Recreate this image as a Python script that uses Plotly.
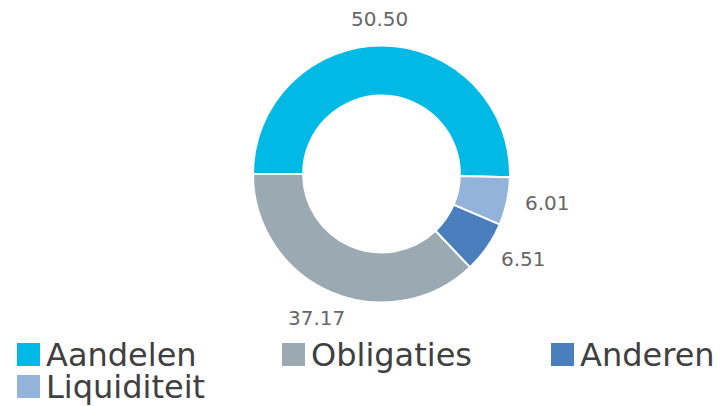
import math
import plotly.graph_objects as go

labels = ["Aandelen", "Obligaties", "Anderen", "Liquiditeit"]
values = [50.50, 37.17, 6.51, 6.01]
colors = ["#00b9e4", "#9aa9b2", "#4a7ebd", "#93b3da"]

W, H = 723, 406
CX, CY, R = 381.5, 174.0, 128.5   # donut centre / outer radius in pixels
LABEL_GAP, LABEL_SIZE = 19, 20

fig = go.Figure()

fig.add_trace(go.Pie(
    labels=labels, values=values, sort=False, direction="counterclockwise", rotation=270,
    hole=0.61,
    domain=dict(x=[(CX - R) / W, (CX + R) / W], y=[1 - (CY + R) / H, 1 - (CY - R) / H]),
    marker=dict(colors=colors, line=dict(color="white", width=2)),
    textinfo="none", showlegend=False,
))

# value labels outside the ring, placed at each slice's mid angle
total = sum(values)
start = 0.0  # first slice starts at 3 o'clock and runs counterclockwise over the top
for v in values:
    span = v / total * 360.0
    mid = math.radians(start + span / 2)
    start += span
    ux, uy = math.cos(mid), -math.sin(mid)
    txt = f"{v:.2f}"
    hw = 0.5 * len(txt) * 0.55 * LABEL_SIZE
    hh = 0.4 * LABEL_SIZE
    px = CX + (R + LABEL_GAP) * ux + hw * ux
    py = CY + (R + LABEL_GAP) * uy + hh * uy
    fig.add_annotation(text=txt, xref="paper", yref="paper", x=px / W, y=1 - py / H,
                       xanchor="center", yanchor="middle", showarrow=False,
                       font=dict(family="DejaVu Sans", size=LABEL_SIZE, color="#666666"))

# custom legend
leg_x = [17, 282, 551, 17]
leg_y = [354.5, 354.5, 354.5, 386.5]
for lab, col, lx, ly in zip(labels, colors, leg_x, leg_y):
    fig.add_shape(type="rect", xref="paper", yref="paper",
                  x0=lx / W, x1=(lx + 23) / W, y0=1 - (ly + 11.5) / H, y1=1 - (ly - 11.5) / H,
                  fillcolor=col, line=dict(width=0))
    fig.add_annotation(text=lab, xref="paper", yref="paper", x=(lx + 27) / W, y=1 - ly / H,
                       xanchor="left", yanchor="middle", showarrow=False,
                       font=dict(family="DejaVu Sans", size=32, color="#404040"))

fig.update_layout(width=W, height=H, margin=dict(l=0, r=0, t=0, b=0),
                  paper_bgcolor="white", plot_bgcolor="white")

fig.write_html("out.html", config={"displayModeBar": False},
               post_script="document.body.style.margin='0';document.body.style.overflow='hidden';")
